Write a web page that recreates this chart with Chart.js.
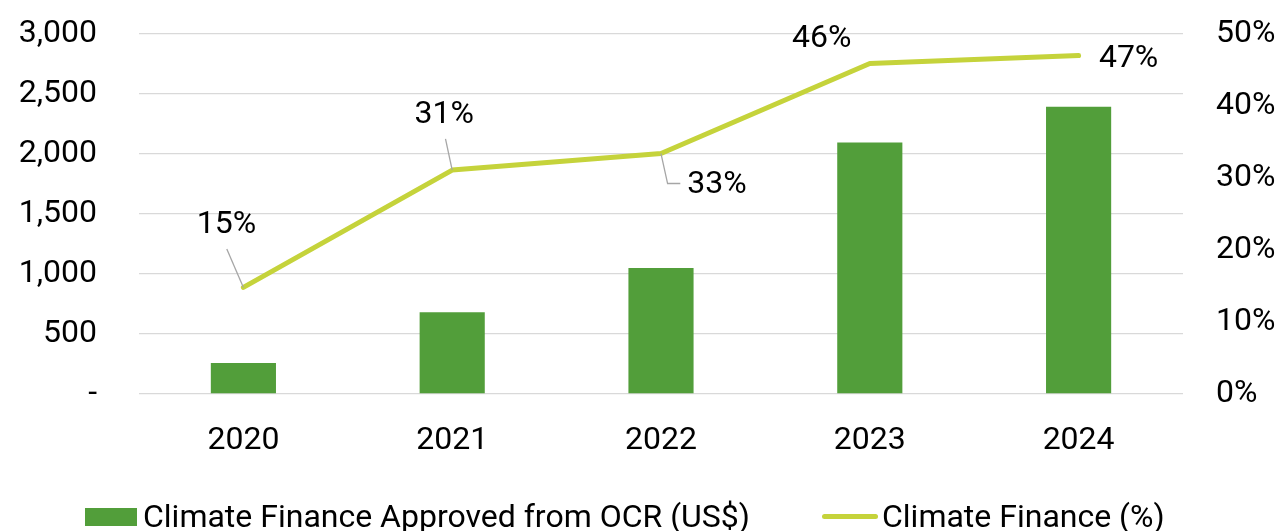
<html><head>
    <meta charset="UTF-8">
    <title>Climate Finance</title>
    <script src="https://cdn.jsdelivr.net/npm/chart.js"></script>
    <style>
        body {
            margin: 0;
            padding: 0;
            background: #fff;
            font-family: Roboto, sans-serif;
            overflow: hidden;
        }
        .wrap {
            position: relative;
            width: 1280px;
            height: 531px;
        }
        .legend {
            position: absolute;
            top: 497px;
            left: 0;
            width: 1280px;
            font-size: 32px;
            color: #000;
            white-space: nowrap;
        }
        .legend span { position: absolute; top: 0; line-height: 38px; }
        .swatch-bar {
            position: absolute;
            left: 85px;
            top: 11px;
            width: 52px;
            height: 18px;
            background: #529e3a;
        }
        .swatch-line {
            position: absolute;
            left: 822px;
            top: 17px;
            width: 56px;
            height: 5px;
            border-radius: 3px;
            background: #c5d33b;
        }
    </style>
</head>
<body>
    <div class="wrap">
        <canvas id="climateChart" width="1280" height="531"></canvas>
        <div class="legend">
            <div class="swatch-bar"></div>
            <span style="left:143px">Climate Finance Approved from OCR (US$)</span>
            <div class="swatch-line"></div>
            <span style="left:882px">Climate Finance (%)</span>
        </div>
    </div>
    <script>
        // data
        const years = ['2020', '2021', '2022', '2023', '2024'];
        const financeOCR = [258, 682, 1051, 2096, 2393];     // US$ (left axis)
        const financeShare = [14.8, 31.1, 33.4, 45.9, 47.0]; // % (right axis)

        const barColor = '#529e3a';
        const lineColor = '#c5d33b';
        const gridColor = '#d9d9d9';
        const font = { family: 'Roboto', size: 32 };

        // label placement relative to each line point, leaders drawn from label to point
        const labelPos = [
            { dx: -17, dy: -62, leader: [[-16.6, -38.4], [0, 0]] },
            { dx: -8, dy: -55, leader: [[-6.7, -31.3], [0, 0]] },
            { dx: 56, dy: 31.5, leader: [[19.3, 30], [6.6, 30], [0, 0]] },
            { dx: -48, dy: -25 },
            { dx: 50, dy: 3 }
        ];

        const pointLabels = {
            id: 'pointLabels',
            afterDatasetsDraw(chart) {
                const ctx = chart.ctx;
                const meta = chart.getDatasetMeta(1);
                ctx.save();
                meta.data.forEach((pt, i) => {
                    const p = labelPos[i];
                    if (p.leader) {
                        ctx.beginPath();
                        ctx.strokeStyle = '#a6a6a6';
                        ctx.lineWidth = 1.3;
                        p.leader.forEach((d, k) => {
                            if (k === 0) ctx.moveTo(pt.x + d[0], pt.y + d[1]);
                            else ctx.lineTo(pt.x + d[0], pt.y + d[1]);
                        });
                        ctx.stroke();
                    }
                    ctx.fillStyle = '#000';
                    ctx.font = '32px Roboto';
                    ctx.textAlign = 'center';
                    ctx.textBaseline = 'middle';
                    ctx.fillText(Math.round(financeShare[i]) + '%', pt.x + p.dx, pt.y + p.dy);
                });
                ctx.restore();
            }
        };

        // fixed side widths, and no extra top/bottom room from tick padding
        function fixWidth(w) {
            return scale => {
                scale.width = w;
                scale.paddingTop = 0;
                scale.paddingBottom = 0;
            };
        }

        const ctx = document.getElementById('climateChart').getContext('2d');
        new Chart(ctx, {
            data: {
                labels: years,
                datasets: [{
                    type: 'bar',
                    label: 'Climate Finance Approved from OCR (US$)',
                    data: financeOCR,
                    backgroundColor: barColor,
                    categoryPercentage: 1,
                    barPercentage: 0.312,
                    yAxisID: 'y',
                    order: 2
                }, {
                    type: 'line',
                    label: 'Climate Finance (%)',
                    data: financeShare,
                    borderColor: lineColor,
                    borderWidth: 5,
                    borderCapStyle: 'round',
                    borderJoinStyle: 'round',
                    pointRadius: 0,
                    tension: 0,
                    yAxisID: 'y1',
                    order: 1
                }]
            },
            options: {
                responsive: false,
                animation: false,
                layout: { padding: { top: 34, bottom: 0, left: 0, right: 0 } },
                plugins: {
                    legend: { display: false },
                    tooltip: { enabled: false }
                },
                scales: {
                    x: {
                        afterFit(scale) {
                            scale.height = 137;
                            scale.paddingLeft = 0;
                            scale.paddingRight = 0;
                        },
                        grid: { display: false, drawTicks: false },
                        border: { display: false },
                        ticks: { color: '#000', font: font, padding: 28 }
                    },
                    y: {
                        position: 'left',
                        min: 0,
                        max: 3000,
                        afterFit: fixWidth(139),
                        grid: { color: gridColor, lineWidth: 1.3, drawTicks: false },
                        border: { display: false },
                        ticks: {
                            stepSize: 500,
                            color: '#000',
                            font: font,
                            padding: 42,
                            callback: v => v === 0 ? '-' : v.toLocaleString('en-US')
                        }
                    },
                    y1: {
                        position: 'right',
                        min: 0,
                        max: 50,
                        afterFit: fixWidth(97),
                        grid: { display: false, drawTicks: false },
                        border: { display: false },
                        ticks: {
                            stepSize: 10,
                            color: '#000',
                            font: font,
                            padding: 33,
                            callback: v => v + '%'
                        }
                    }
                }
            },
            plugins: [pointLabels]
        });
    </script>
</body></html>
